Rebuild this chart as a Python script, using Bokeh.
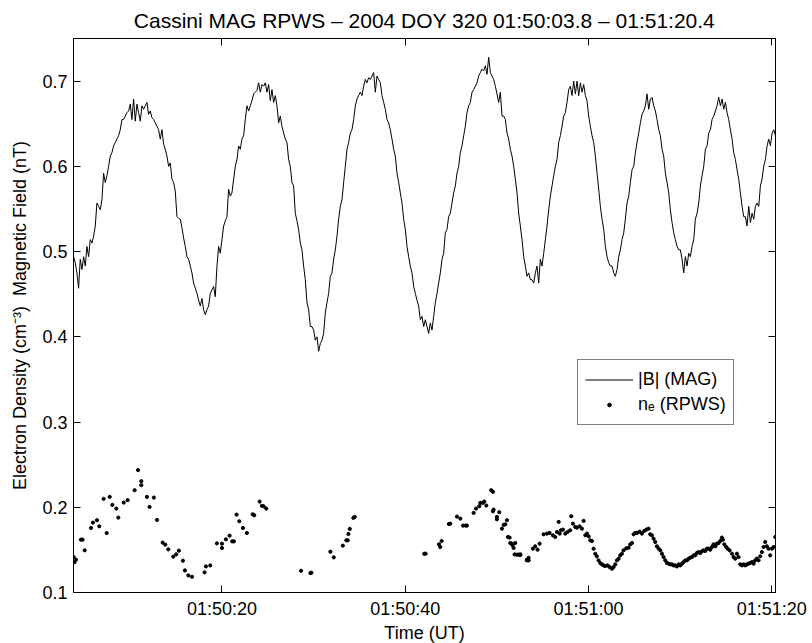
from bokeh.plotting import figure
from bokeh.models import Range1d, LinearAxis, FixedTicker, Legend, LegendItem, PrintfTickFormatter
from bokeh.embed import file_html
from bokeh.resources import INLINE

FONT = "Liberation Sans"

# ---- data -------------------------------------------------------------
# time axis: seconds after 01:50:00 UT
x_ticks = [20, 40, 60, 80]
x_tick_labels = ["01:50:20", "01:50:40", "01:51:00", "01:51:20"]
y_ticks = [0.1, 0.2, 0.3, 0.4, 0.5, 0.6, 0.7]

# |B| (MAG), nT, sampled at a constant cadence starting at mag_t0
mag_t0 = 3.81
mag_dt = 0.1819
mag_b = [
    0.494, 0.487, 0.475, 0.457, 0.491, 0.479, 0.494, 0.483, 0.506, 0.494,
    0.514, 0.510, 0.518, 0.530, 0.557, 0.553, 0.549, 0.561, 0.592, 0.581,
    0.589, 0.600, 0.612, 0.616, 0.624, 0.628, 0.632, 0.636, 0.643, 0.655,
    0.655, 0.659, 0.663, 0.665, 0.673, 0.655, 0.679, 0.653, 0.673, 0.663,
    0.653, 0.671, 0.667, 0.671, 0.675, 0.661, 0.665, 0.657, 0.655, 0.651,
    0.647, 0.643, 0.632, 0.643, 0.626, 0.620, 0.612, 0.600, 0.604, 0.585,
    0.581, 0.571, 0.541, 0.539, 0.538, 0.528, 0.516, 0.506, 0.494, 0.491,
    0.483, 0.475, 0.463, 0.457, 0.451, 0.443, 0.436, 0.445, 0.432, 0.426,
    0.432, 0.436, 0.451, 0.455, 0.459, 0.447, 0.483, 0.506, 0.498, 0.514,
    0.530, 0.536, 0.541, 0.573, 0.565,
    0.569, 0.585, 0.600, 0.608, 0.624, 0.620, 0.632, 0.636, 0.655, 0.671,
    0.665, 0.671, 0.677, 0.685, 0.687, 0.689, 0.698, 0.687, 0.696, 0.694,
    0.698, 0.687, 0.696, 0.677, 0.690, 0.675, 0.683, 0.671, 0.651, 0.659,
    0.647, 0.639, 0.632, 0.628, 0.608, 0.600, 0.581, 0.577, 0.545, 0.536,
    0.526, 0.510, 0.502, 0.483, 0.467, 0.440, 0.432, 0.412, 0.412, 0.408,
    0.396, 0.400, 0.383, 0.392, 0.396, 0.404, 0.428, 0.440, 0.451, 0.471,
    0.475, 0.491, 0.502, 0.518, 0.538, 0.553, 0.561, 0.581, 0.600, 0.620,
    0.628, 0.639, 0.643, 0.655, 0.671, 0.679, 0.683, 0.687, 0.683, 0.694,
    0.702, 0.698, 0.704, 0.702, 0.706, 0.710, 0.687, 0.706, 0.702, 0.698,
    0.683, 0.675, 0.667, 0.655, 0.651, 0.643, 0.632, 0.620, 0.612, 0.592,
    0.581, 0.569, 0.557, 0.538, 0.526, 0.506, 0.494, 0.483, 0.475, 0.459,
    0.451, 0.443, 0.436, 0.420,
    0.424, 0.412, 0.420, 0.412, 0.404, 0.416, 0.408, 0.424, 0.440, 0.451,
    0.463, 0.475, 0.491, 0.498, 0.522, 0.526, 0.541, 0.545, 0.557, 0.569,
    0.577, 0.592, 0.600, 0.616, 0.624, 0.636, 0.647, 0.663, 0.671, 0.675,
    0.687, 0.690, 0.694, 0.698, 0.706, 0.710, 0.714, 0.712, 0.718, 0.708,
    0.728, 0.710, 0.706, 0.702, 0.694, 0.685, 0.675, 0.687, 0.659, 0.659,
    0.655, 0.639, 0.632, 0.620, 0.612, 0.600, 0.585, 0.569, 0.545, 0.530,
    0.514, 0.494, 0.483, 0.471, 0.475, 0.467, 0.467, 0.463, 0.475, 0.483,
    0.463, 0.491, 0.483, 0.498, 0.514, 0.530, 0.549, 0.565, 0.577, 0.589,
    0.600, 0.608, 0.628, 0.636, 0.647, 0.659, 0.663, 0.675, 0.690, 0.694,
    0.683, 0.700, 0.685, 0.700, 0.683, 0.698, 0.687, 0.696, 0.683, 0.677,
    0.659, 0.647, 0.636, 0.628, 0.612, 0.592, 0.573, 0.553, 0.538, 0.526,
    0.506, 0.494, 0.487, 0.483, 0.483, 0.475, 0.471,
    0.479, 0.494, 0.502, 0.514, 0.522, 0.538, 0.557, 0.565, 0.581, 0.596,
    0.600, 0.616, 0.628, 0.639, 0.651, 0.661, 0.665, 0.671, 0.685, 0.667,
    0.679, 0.681, 0.671, 0.665, 0.655, 0.643, 0.636, 0.620, 0.612, 0.592,
    0.581, 0.569, 0.549, 0.534, 0.522, 0.514, 0.506, 0.502, 0.502, 0.491,
    0.475, 0.494, 0.483, 0.498, 0.494, 0.506, 0.514, 0.538, 0.545, 0.557,
    0.577, 0.589, 0.600, 0.620, 0.624, 0.639, 0.643, 0.655, 0.659, 0.665,
    0.671, 0.681, 0.671, 0.679, 0.667, 0.675, 0.663, 0.655, 0.643, 0.632,
    0.616, 0.608, 0.596, 0.585, 0.569, 0.553, 0.541, 0.541, 0.530, 0.553,
    0.534, 0.545, 0.538, 0.553, 0.557, 0.553, 0.577, 0.585, 0.600, 0.608,
    0.624, 0.632, 0.624, 0.639, 0.643, 0.636,
]
mag_t = [mag_t0 + i * mag_dt for i in range(len(mag_b))]

# electron density n_e (RPWS), cm^-3
ne_t = [
    3.81, 3.92, 4.07, 4.61, 4.79, 5.02, 5.71, 5.92, 6.36, 6.61,
    7.09, 7.42, 7.75, 8.04, 8.47, 8.69, 9.28, 9.71, 10.47, 10.84,
    11.20, 11.20, 11.81, 12.10, 12.57, 12.91, 13.53, 13.82, 14.14, 14.69,
    15.01, 15.30, 15.74, 15.96, 16.33, 16.73, 18.10, 18.25, 18.72, 19.45,
    20.00, 20.00, 20.43, 20.83, 21.12, 21.30, 21.59, 21.89, 22.29, 22.72,
    23.35, 23.52, 24.11, 24.36, 24.54, 24.83,
    28.63, 29.65, 29.76, 31.83, 32.20, 33.19, 33.57, 33.73, 33.80, 33.95,
    34.34, 34.49,
    42.07, 42.22, 43.68, 43.82, 43.97, 44.76, 44.91, 45.64, 46.01, 46.30,
    46.58, 46.73, 47.46, 47.72, 48.08, 48.19, 48.44, 48.62, 48.84, 49.38,
    49.57, 49.57, 49.64, 50.00, 50.00, 50.26, 50.55, 50.74, 50.92, 51.10,
    51.21, 51.39, 51.46, 51.64, 51.71, 51.82, 52.00, 51.93, 52.19, 52.38,
    52.56, 53.28, 53.46,
    52.55, 53.27, 53.46, 53.93, 54.18, 54.44, 54.66, 55.10, 55.46, 55.75,
    56.11, 56.36, 56.55, 56.74, 56.85, 56.99, 57.21, 57.46, 57.71, 58.00,
    58.11, 58.29, 58.55, 58.73, 59.02, 59.28, 59.46, 59.65, 59.83, 60.01,
    60.19, 60.37, 60.55, 60.73, 60.91, 61.09, 61.28, 61.46, 61.64, 61.82,
    62.08, 62.30, 62.55, 62.73, 62.92, 63.10, 63.28, 63.46, 63.64, 63.82,
    64.11, 64.37, 64.55, 64.74, 64.92, 65.10, 65.28, 65.57, 65.82, 66.08,
    66.30, 66.55, 66.73, 66.91, 67.10, 67.28, 67.46, 67.65, 67.83, 68.01,
    68.19, 68.37, 68.55, 68.73, 68.91, 69.10, 69.28, 69.46, 69.64, 69.83,
    70.01, 70.19, 70.37, 70.55, 70.74, 70.92, 71.10, 71.28, 71.46, 71.64,
    71.82, 72.00, 72.19, 72.37, 72.55, 72.73, 72.92, 73.10, 73.28, 73.46,
    73.64, 73.83, 74.01, 74.19, 74.37, 74.55, 74.66, 74.81, 75.02, 75.17,
    75.39, 75.65, 75.83, 76.01, 76.19, 76.37, 76.55, 76.73, 76.92, 77.10,
    77.28, 77.46, 77.64, 77.82, 78.01, 78.19, 78.37, 78.55, 78.73, 78.91,
    79.10, 79.28, 79.46, 79.64, 79.82, 80.01, 80.19, 80.37,
]
ne_v = [
    0.1416, 0.1357, 0.1385, 0.1620, 0.1620, 0.1495, 0.1757, 0.1820, 0.1848, 0.1777,
    0.2099, 0.1698, 0.2122, 0.2028, 0.1985, 0.1879, 0.2055, 0.2083, 0.2200, 0.2436,
    0.2306, 0.2259, 0.2122, 0.2004, 0.2114, 0.1851, 0.1585, 0.1561, 0.1506, 0.1420,
    0.1448, 0.1491, 0.1373, 0.1259, 0.1200, 0.1185, 0.1236, 0.1306, 0.1318, 0.1577,
    0.1522, 0.1573, 0.1624, 0.1667, 0.1600, 0.1600, 0.1914, 0.1836, 0.1757, 0.1698,
    0.1918, 0.1906, 0.2067, 0.2016, 0.2012, 0.1985,
    0.1255, 0.1228, 0.1232, 0.1479, 0.1412, 0.1550, 0.1612, 0.1612, 0.1687, 0.1746,
    0.1875, 0.1887,
    0.1455, 0.1455, 0.1565, 0.1534, 0.1604, 0.1804, 0.1808, 0.1891, 0.1867, 0.1785,
    0.1785, 0.1785, 0.1934, 0.1985, 0.2012, 0.2051, 0.2051, 0.2067, 0.2020, 0.2200,
    0.2181, 0.1953, 0.1973, 0.1887, 0.1859, 0.1942, 0.1749, 0.1793, 0.1800, 0.1848,
    0.1651, 0.1644, 0.1581, 0.1573, 0.1553, 0.1522, 0.1581, 0.1447, 0.1444, 0.1444,
    0.1440, 0.1385, 0.1377,
    0.1448, 0.1377, 0.1408, 0.1514, 0.1542, 0.1502, 0.1573, 0.1683, 0.1691, 0.1699,
    0.1671, 0.1651, 0.1710, 0.1828, 0.1691, 0.1730, 0.1738, 0.1691, 0.1710, 0.1730,
    0.1895, 0.1808, 0.1769, 0.1761, 0.1777, 0.1749, 0.1840, 0.1671, 0.1691, 0.1659,
    0.1612, 0.1604, 0.1514, 0.1455, 0.1424, 0.1377, 0.1346, 0.1330, 0.1318, 0.1310,
    0.1318, 0.1298, 0.1279, 0.1298, 0.1330, 0.1377, 0.1397, 0.1436, 0.1455, 0.1495,
    0.1518, 0.1526, 0.1565, 0.1581, 0.1683, 0.1699, 0.1699, 0.1714, 0.1691, 0.1722,
    0.1738, 0.1749, 0.1683, 0.1671, 0.1632, 0.1593, 0.1542, 0.1514, 0.1495, 0.1455,
    0.1416, 0.1377, 0.1346, 0.1338, 0.1330, 0.1330, 0.1318, 0.1318, 0.1306, 0.1330,
    0.1318, 0.1338, 0.1357, 0.1377, 0.1377, 0.1397, 0.1408, 0.1416, 0.1436, 0.1436,
    0.1463, 0.1475, 0.1463, 0.1483, 0.1495, 0.1487, 0.1514, 0.1514, 0.1502, 0.1534,
    0.1565, 0.1542, 0.1573, 0.1581, 0.1604, 0.1644, 0.1620, 0.1565, 0.1534, 0.1514,
    0.1495, 0.1455, 0.1416, 0.1397, 0.1455, 0.1416, 0.1330, 0.1318, 0.1330, 0.1318,
    0.1330, 0.1338, 0.1346, 0.1357, 0.1338, 0.1377, 0.1397, 0.1377, 0.1424, 0.1475,
    0.1534, 0.1593, 0.1542, 0.1514, 0.1436, 0.1514, 0.1534, 0.1651,
]

# ---- figure -----------------------------------------------------------
p = figure(
    frame_width=702, frame_height=554,
    min_border_left=73, min_border_right=37, min_border_top=38, min_border_bottom=51,
    x_range=Range1d(3.8, 80.4), y_range=Range1d(0.1, 0.75),
    output_backend="svg", toolbar_location=None,
    title="Cassini MAG RPWS \u2013 2004 DOY 320 01:50:03.8 \u2013 01:51:20.4",
)
p.background_fill_color = "white"
p.border_fill_color = "white"
p.outline_line_color = "black"
p.grid.visible = False

p.title.align = "center"
p.title.text_font = FONT
p.title.text_font_size = "21px"
p.title.text_font_style = "normal"
p.title.text_color = "black"
p.title.standoff = 13

line_r = p.line(mag_t, mag_b, line_color="black", line_width=1)
dot_r = p.scatter(ne_t, ne_v, size=3.2, marker="circle",
                  fill_color="black", line_color="black")


def style_axis(ax):
    ax.axis_line_color = "black"
    ax.major_tick_line_color = "black"
    ax.major_tick_in = 7
    ax.major_tick_out = 0
    ax.minor_tick_in = 0
    ax.minor_tick_out = 0
    ax.major_label_text_font = FONT
    ax.major_label_text_color = "black"
    ax.major_label_text_font_size = "18px"
    ax.major_label_standoff = 6
    ax.axis_label_text_font = FONT
    ax.axis_label_text_font_size = "18px"
    ax.axis_label_text_font_style = "normal"
    ax.axis_label_text_color = "black"


xa = p.xaxis[0]
xa.ticker = FixedTicker(ticks=x_ticks)
xa.major_label_overrides = {t: s for t, s in zip(x_ticks, x_tick_labels)}
style_axis(xa)
xa.axis_label = "Time (UT)"
xa.axis_label_standoff = 1

ya = p.yaxis[0]
ya.ticker = FixedTicker(ticks=y_ticks)
ya.formatter = PrintfTickFormatter(format="%.1f")
style_axis(ya)
ya.axis_label = "Electron Density (cm\u207b\u00b3)\u00a0\u00a0Magnetic Field (nT)"
ya.axis_label_standoff = 9

# mirrored tick marks on the top and right sides of the box (no labels)
top = LinearAxis(ticker=FixedTicker(ticks=x_ticks))
style_axis(top)
top.major_label_overrides = {t: "" for t in x_ticks}
top.major_label_standoff = 0
p.add_layout(top, "above")
right = LinearAxis(ticker=FixedTicker(ticks=y_ticks))
style_axis(right)
right.major_label_overrides = {t: "" for t in y_ticks}
right.major_label_standoff = 0
p.add_layout(right, "right")

legend = Legend(
    items=[LegendItem(label="|B| (MAG)", renderers=[line_r]),
           LegendItem(label="n\u2091 (RPWS)", renderers=[dot_r])],
    location=(504, 167),
    border_line_color="black", border_line_width=1,
    background_fill_color="white", background_fill_alpha=1.0,
    label_text_font=FONT, label_text_font_size="18px",
    label_text_color="black",
    glyph_width=48, glyph_height=9, label_height=25,
    label_standoff=5, padding=7, spacing=0, margin=0,
)
p.add_layout(legend)

open("out.html", "w").write(file_html(p, INLINE))
